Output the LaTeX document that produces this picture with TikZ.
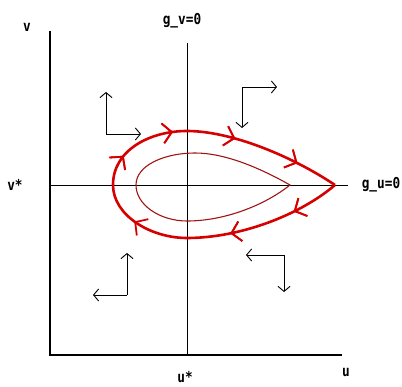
\documentclass[tikz,border=0pt]{standalone}
\usepackage{fontspec}
\setmonofont{DejaVu Sans Mono}
\usetikzlibrary{arrows.meta,decorations.markings}
\definecolor{loopred}{RGB}{214,0,0}
\definecolor{innerred}{RGB}{160,20,20}
\tikzset{
  x=1pt,y=-1pt,
  lbl/.style={font=\ttfamily\bfseries\fontsize{15}{15}\selectfont,inner sep=0pt,xscale=0.85,transform shape},
  axis/.style={line width=2.4pt,black},
  nullcl/.style={line width=0.9pt,black},
  dirarrow/.style={line width=0.9pt,black,-{Straight Barb[length=5pt 0 0,width=12pt 0 0]}},
  outer/.style={line width=2.6pt,loopred,line join=round},
  inner/.style={line width=1.1pt,innerred},
  chev/.style={decoration={markings,mark=at position #1 with {\draw[line width=1.8pt,loopred,line join=miter] (-9pt,10pt) -- (0pt,0pt) -- (-9pt,-10pt);}},postaction={decorate}},
}
\begin{document}
\begin{tikzpicture}
\useasboundingbox (0,0) rectangle (402,387);
% coordinates
\coordinate (O) at (50,355);
\coordinate (vtop) at (50,31);
\coordinate (uend) at (342,355);
\coordinate (gvtop) at (187,43);
\coordinate (gvbot) at (187,355);
\coordinate (guL) at (50,185);
\coordinate (guR) at (348,185);
% labels
\node[lbl] (vlab) at (27,27) {v};
\node[lbl] (gvlab) at (182,21) {g\_v=0};
\node[lbl] (vslab) at (15,185) {v*};
\node[lbl] (gulab) at (381,185) {g\_u=0};
\node[lbl] (uslab) at (185,377) {u*};
\node[lbl] (ulab) at (346,373) {u};
% axes
\draw[axis] (vtop) -- (O) -- (uend);
\draw[nullcl] (gvtop) -- (gvbot);
\draw[nullcl] (guL) -- (guR);
% outer loop
\coordinate (oL) at (113,185);
\coordinate (oT) at (187,131);
\coordinate (oR) at (335,185);
\coordinate (oB) at (187,238);
\draw[outer,chev=0.3,chev=0.85] (oL) .. controls (113,150) and (150,131) .. (oT);
\draw[outer,chev=0.3,chev=0.72] (oT) .. controls (230,131) and (290,155) .. (oR);
\draw[outer,chev=0.3,chev=0.72] (oR) .. controls (300,215) and (240,238) .. (oB);
\draw[outer,chev=0.55] (oB) .. controls (150,238) and (113,215) .. (oL);
% inner loop
\coordinate (iL) at (136,185);
\coordinate (iT) at (195,153);
\coordinate (iR) at (290,185);
\coordinate (iB) at (187,221);
\draw[inner] (iL) .. controls (136,165) and (165,153) .. (iT)
  .. controls (225,153) and (260,168) .. (iR)
  .. controls (265,205) and (225,221) .. (iB)
  .. controls (160,221) and (136,205) .. (iL);
% direction arrows
\coordinate (c1) at (106,134);
\coordinate (c1u) at (106,92);
\coordinate (c1r) at (141,134);
\draw[dirarrow] (c1) -- (c1u);
\draw[dirarrow] (c1) -- (c1r);
\coordinate (c2) at (242,87);
\coordinate (c2r) at (277,87);
\coordinate (c2d) at (242,128);
\draw[dirarrow] (c2) -- (c2r);
\draw[dirarrow] (c2) -- (c2d);
\coordinate (c3) at (127,295);
\coordinate (c3u) at (127,253);
\coordinate (c3l) at (93,295);
\draw[dirarrow] (c3) -- (c3u);
\draw[dirarrow] (c3) -- (c3l);
\coordinate (c4) at (284,255);
\coordinate (c4l) at (246,255);
\coordinate (c4d) at (284,292);
\draw[dirarrow] (c4) -- (c4l);
\draw[dirarrow] (c4) -- (c4d);
\end{tikzpicture}
\end{document}
